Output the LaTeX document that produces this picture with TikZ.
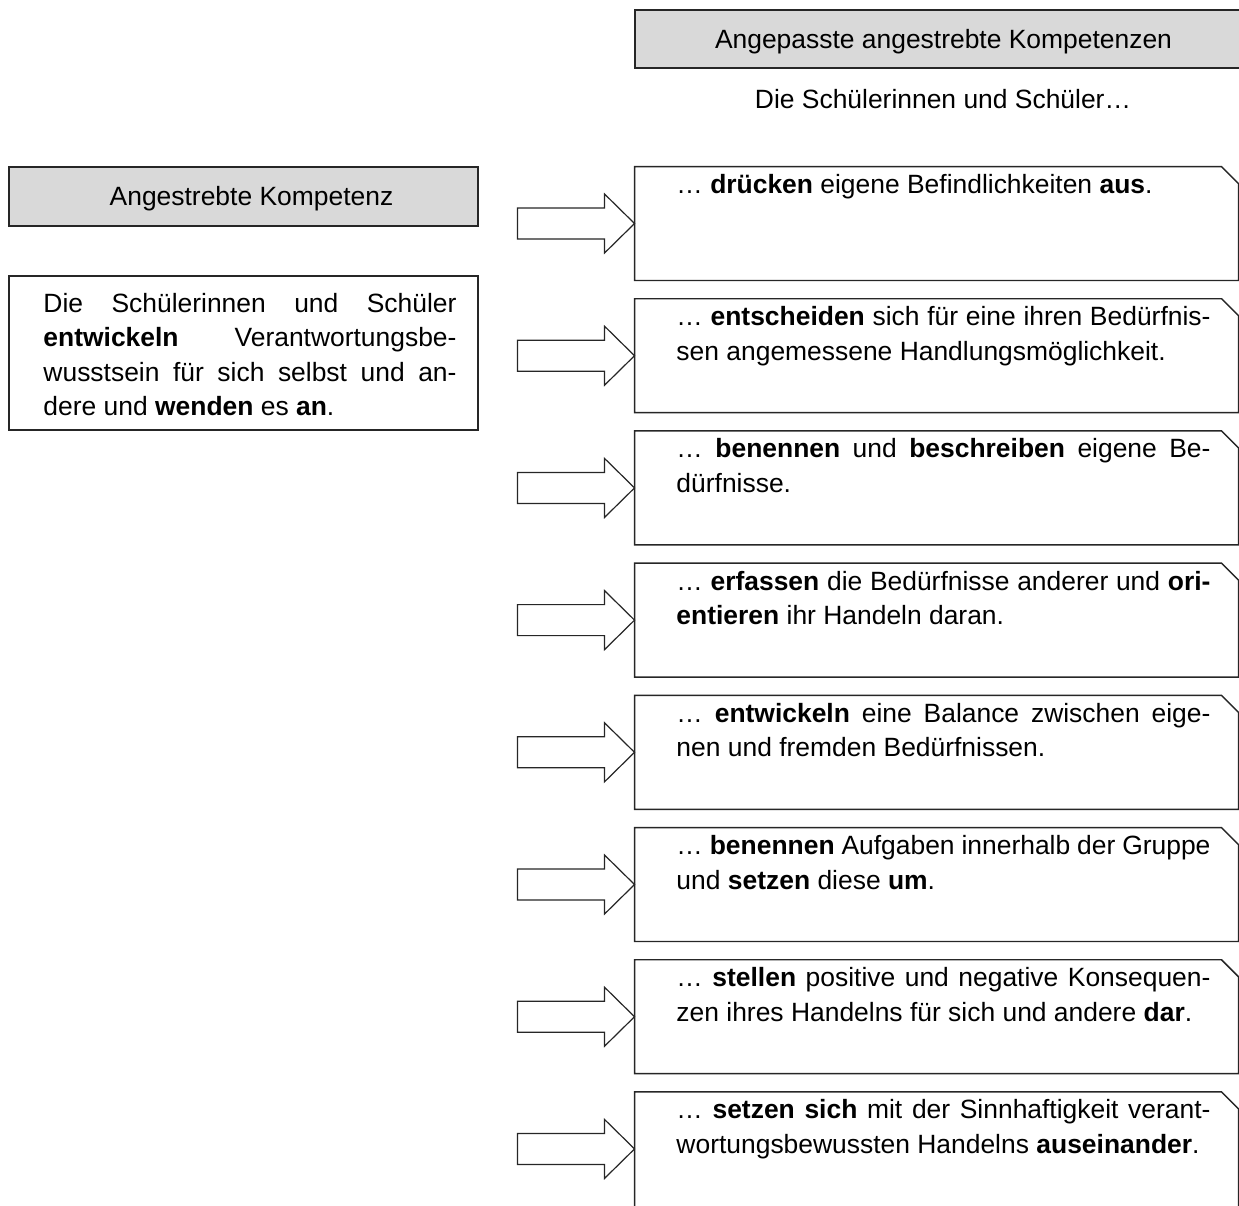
\documentclass[tikz,border=0pt]{standalone}
\usepackage{fontspec}
\setmainfont{Liberation Sans}
\definecolor{hdrgray}{HTML}{D9D9D9}
\newcommand\pxu{0.4162pt}
\newlength\rowwd
\newcommand\jrow[1]{\hbox to\rowwd{#1}}
\newcommand\lrow[1]{\hbox to\rowwd{#1\hfil}}
\tikzset{
  outline/.style={draw=black!85, line width=0.6pt},
  hdr/.style={outline, fill=hdrgray, inner sep=0pt, rectangle},
  rbox/.style={rectangle, inner sep=0pt, minimum width={603*\pxu}, minimum height={113*\pxu}},
  blockarrow/.style={draw=black!85, line width=0.5pt, fill=white, line join=miter},
  txt/.style={inner sep=0pt, anchor=base west},
  ctxt/.style={inner sep=0pt, anchor=base},
}
% #1 name, #2 top, #3 height, #4 content
\newcommand\rightbox[4]{%
  \node[rbox, minimum height={#3*\pxu}] (#1) at (936.5,#2+#3/2) {};
  \draw[outline] (#1.north west) -- ([xshift={-17*\pxu}]#1.north east)
     -- ([yshift={-17*\pxu}]#1.north east) -- (#1.south east) -- (#1.south west) -- cycle;
  \node[txt] (#1t) at (676,#2+26.5) {\setlength\rowwd{222.25pt}\vtop{#4}};
  \draw[blockarrow] ([yshift={(#3/2-56.5)*\pxu}]#1.west) -- ++(-30,29.5) -- ++(0,-14) -- ++(-87,0) -- ++(0,-31)
     -- ++(87,0) -- ++(0,-14) -- cycle;
}
\begin{document}
\begin{tikzpicture}[x=0.4162pt, y=-0.4162pt, font=\fontsize{11}{14.4}\selectfont]
\useasboundingbox (0,0) rectangle (1239,1205);
\clip (0,0) rectangle (1239,1205);
% top right header
\node[hdr, minimum width={617*\pxu}, minimum height={58*\pxu}] (hdrR) at (943.5,39) {};
\node[ctxt] (hdrRt) at (943.5,48) {Angepasste angestrebte Kompetenzen};
\node[ctxt] (sub) at (943,108) {Die Schülerinnen und Schüler…};
% left header
\node[hdr, minimum width={469*\pxu}, minimum height={59*\pxu}] (hdrL) at (243.5,196.5) {};
\node[ctxt] (hdrLt) at (251.5,205.5) {Angestrebte Kompetenz};
% left box
\node[rectangle, outline, inner sep=0pt, minimum width={469*\pxu}, minimum height={154*\pxu}] (lbox) at (243.5,353) {};
\node[txt] (lboxt) at (43,312) {\setlength\rowwd{171.9pt}\vtop{%
  \jrow{Die Schülerinnen und Schüler}%
  \jrow{\textbf{entwickeln} Verantwortungsbe-}%
  \jrow{wusstsein für sich selbst und an-}%
  \lrow{dere und \textbf{wenden} es \textbf{an}.}}};
% right boxes
\rightbox{b1}{167}{113}{\lrow{… \textbf{drücken} eigene Befindlichkeiten \textbf{aus}.}}
\rightbox{b2}{299.2}{113}{\jrow{… \textbf{entscheiden} sich für eine ihren Bedürfnis-}\lrow{sen angemessene Handlungsmöglichkeit.}}
\rightbox{b3}{431.4}{113}{\jrow{… \textbf{benennen} und \textbf{beschreiben} eigene Be-}\lrow{dürfnisse.}}
\rightbox{b4}{563.6}{113}{\jrow{… \textbf{erfassen} die Bedürfnisse anderer und \textbf{ori-}}\lrow{\textbf{entieren} ihr Handeln daran.}}
\rightbox{b5}{695.8}{113}{\jrow{… \textbf{entwickeln} eine Balance zwischen eige-}\lrow{nen und fremden Bedürfnissen.}}
\rightbox{b6}{828}{113}{\jrow{… \textbf{benennen} Aufgaben innerhalb der Gruppe}\lrow{und \textbf{setzen} diese \textbf{um}.}}
\rightbox{b7}{960.2}{113}{\jrow{… \textbf{stellen} positive und negative Konsequen-}\lrow{zen ihres Handelns für sich und andere \textbf{dar}.}}
\rightbox{b8}{1092.4}{130}{\jrow{… \textbf{setzen sich} mit der Sinnhaftigkeit verant-}\lrow{wortungsbewussten Handelns \textbf{auseinander}.}}
\end{tikzpicture}
\end{document}
